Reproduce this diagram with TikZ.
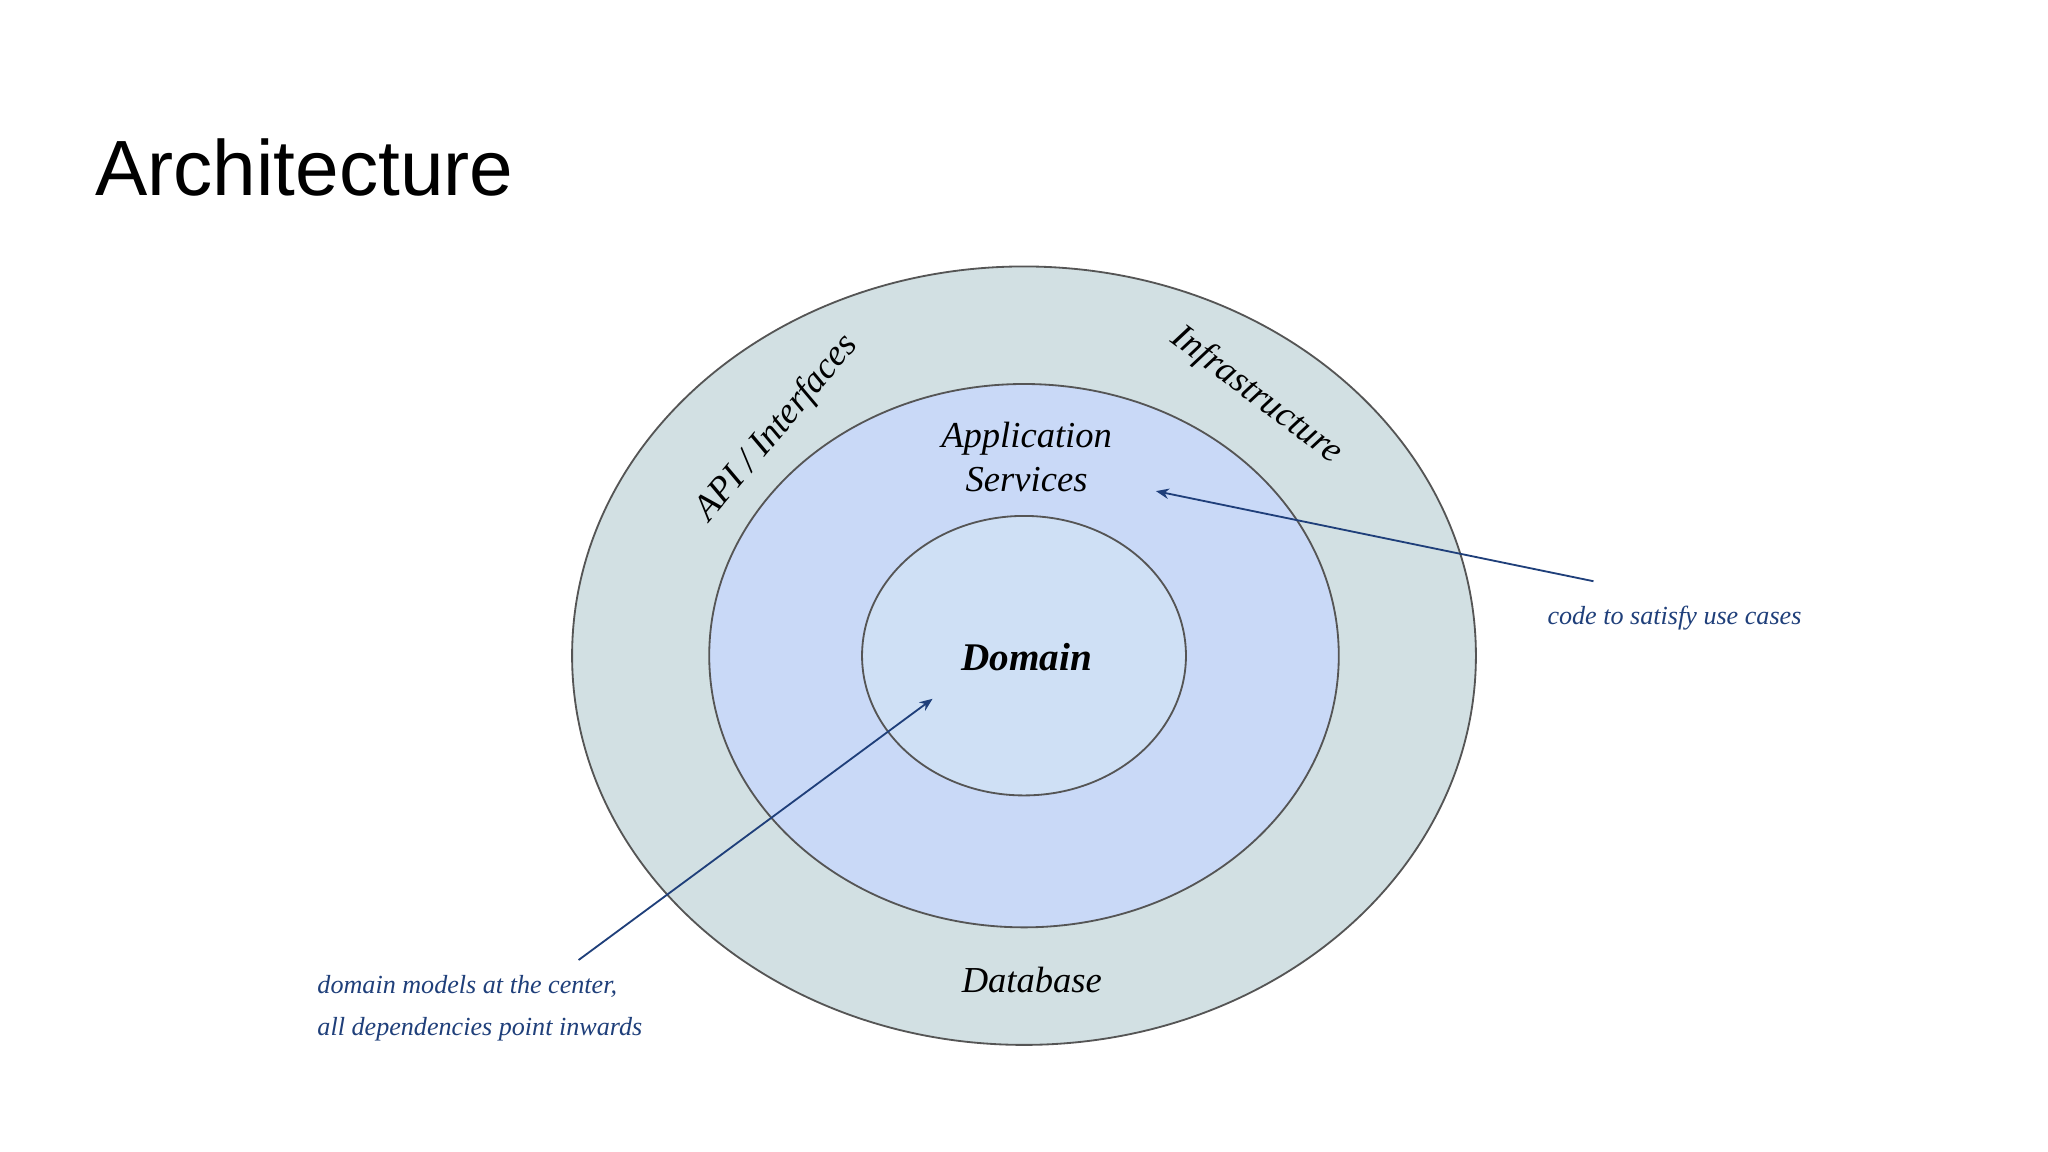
\documentclass[tikz,border=0pt]{standalone}
\usepackage{fontspec}
\setmainfont{Liberation Serif}
\newfontfamily\titlefont{Liberation Sans}
\usetikzlibrary{arrows.meta}
\definecolor{outerc}{HTML}{D2E0E3}
\definecolor{midc}{HTML}{C9D9F7}
\definecolor{innc}{HTML}{CFE0F5}
\definecolor{annc}{HTML}{1F3F7A}
\definecolor{edgec}{HTML}{555555}
\begin{document}
\begin{tikzpicture}[x=0.5pt,y=-0.5pt,
  ring/.style={draw=edgec,line width=0.7pt},
  lbl/.style={font=\itshape\fontsize{14}{17}\selectfont,text=black},
  ann/.style={font=\itshape\fontsize{10}{16}\selectfont,text=annc},
  arr/.style={draw=annc,line width=0.7pt,-{Stealth[length=5pt,width=4pt]}}]
\useasboundingbox[fill=white] (0,0) rectangle (1568,882);
\node[font=\titlefont\fontsize{30}{36}\selectfont,anchor=west] (title) at (66,128) {Architecture};
\draw[ring,fill=outerc] (784,502) ellipse [x radius=346,y radius=298];
\draw[ring,fill=midc] (784,502) ellipse [x radius=241,y radius=208];
\draw[ring,fill=innc] (784,502) ellipse [x radius=124,y radius=107];
\node[lbl,rotate=50] (api) at (595,328) {API / Interfaces};
\node[lbl,rotate=-37] (infra) at (962,303) {Infrastructure};
\node[lbl,align=center] (app) at (786,350) {Application\\Services};
\node[lbl,font=\bfseries\itshape\fontsize{15}{18}\selectfont] (dom) at (786,503) {Domain};
\node[lbl] (db) at (790,750) {Database};
\node[ann] (r) at (1282,473) {code to satisfy use cases};
\node[ann,anchor=north west,align=left] (l) at (236,740) {domain models at the center,\\all dependencies point inwards};
\coordinate (rs) at (1220,445);
\coordinate (re) at (885,376);
\coordinate (ls) at (443,735);
\coordinate (le) at (714,535);
\draw[arr] (rs) -- (re);
\draw[arr] (ls) -- (le);
\end{tikzpicture}
\end{document}
